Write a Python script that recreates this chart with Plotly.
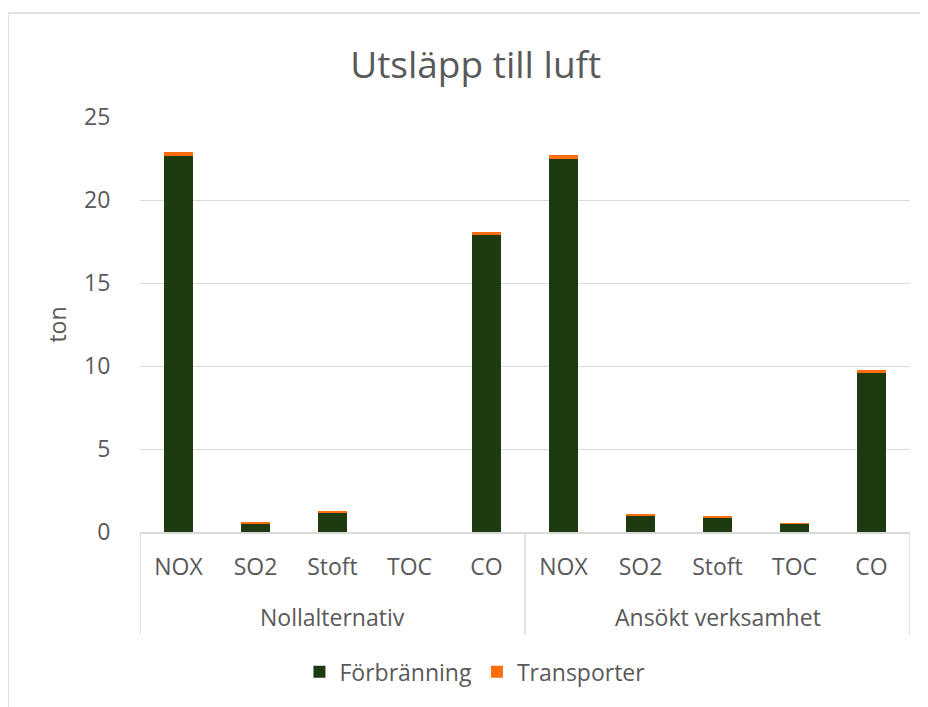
import plotly.graph_objects as go

# 데이터
grupper = ["Nollalternativ", "Ansökt verksamhet"]
ämnen = ["NOX", "SO2", "Stoft", "TOC", "CO"]
förbränning = [22.65, 0.50, 1.17, 0.0, 17.95, 22.45, 1.00, 0.88, 0.50, 9.55]
transporter = [0.25, 0.08, 0.04, 0.0, 0.12, 0.25, 0.06, 0.05, 0.03, 0.18]

grön = "#1E3A10"
orange = "#FF6D0C"
textfärg = "#595959"
linjefärg = "#D9D9D9"

n = len(ämnen)
x = list(range(n * len(grupper)))
etiketter = ämnen * len(grupper)

fig = go.Figure()
fig.add_trace(go.Bar(x=x, y=förbränning, name="Förbränning", width=0.37,
                     marker=dict(color=grön, line=dict(width=0))))
fig.add_trace(go.Bar(x=x, y=transporter, name="Transporter", width=0.37,
                     marker=dict(color=orange, line=dict(width=0))))

fig.update_layout(
    width=928, height=707,
    barmode="stack",
    paper_bgcolor="white", plot_bgcolor="white",
    font=dict(family="Open Sans", color=textfärg, size=23),
    margin=dict(l=132, r=26, t=109, b=183, autoexpand=False),
    title=dict(text="Utsläpp till luft", x=0.504, xref="container",
               y=1 - 57 / 707, yanchor="middle",
               font=dict(size=37, color=textfärg)),
    legend=dict(orientation="h", x=0.435, xanchor="center",
                y=-0.337, yanchor="middle", font=dict(size=23),
                traceorder="normal"),
    showlegend=True,
)
# osynliga tickmarkeringar ger avståndet mellan etiketter och diagramyta
fig.update_yaxes(range=[0, 25], dtick=5, gridcolor=linjefärg, gridwidth=1,
                 zeroline=False, showline=False, automargin=False,
                 ticks="outside", ticklen=24, tickcolor="rgba(0,0,0,0)",
                 title=dict(text="ton", font=dict(size=23), standoff=11))
fig.update_xaxes(range=[-0.5, len(x) - 0.5], tickvals=x, ticktext=etiketter,
                 showline=True, linecolor=linjefärg, linewidth=1.5,
                 showgrid=False, ticks="", automargin=False, tickangle=0,
                 ticklabelstandoff=14)

# gruppnamn och avdelare
for i, g in enumerate(grupper):
    fig.add_annotation(x=i * n + (n - 1) / 2, xref="x", y=-0.205, yref="paper",
                       text=g, showarrow=False, yanchor="middle",
                       font=dict(size=23, color=textfärg))
for i in range(len(grupper) + 1):
    fig.add_shape(type="line", xref="x", yref="paper",
                  x0=i * n - 0.5, x1=i * n - 0.5, y0=0, y1=-0.248,
                  line=dict(color=linjefärg, width=1.5))

# ram runt diagrammet
fig.add_shape(type="rect", xref="paper", yref="paper",
              x0=(0 - 132) / 770, x1=1.2, y0=-1, y1=(524 - 5) / 415,
              line=dict(color=linjefärg, width=1.5), layer="below")

fig.write_html("out.html")
